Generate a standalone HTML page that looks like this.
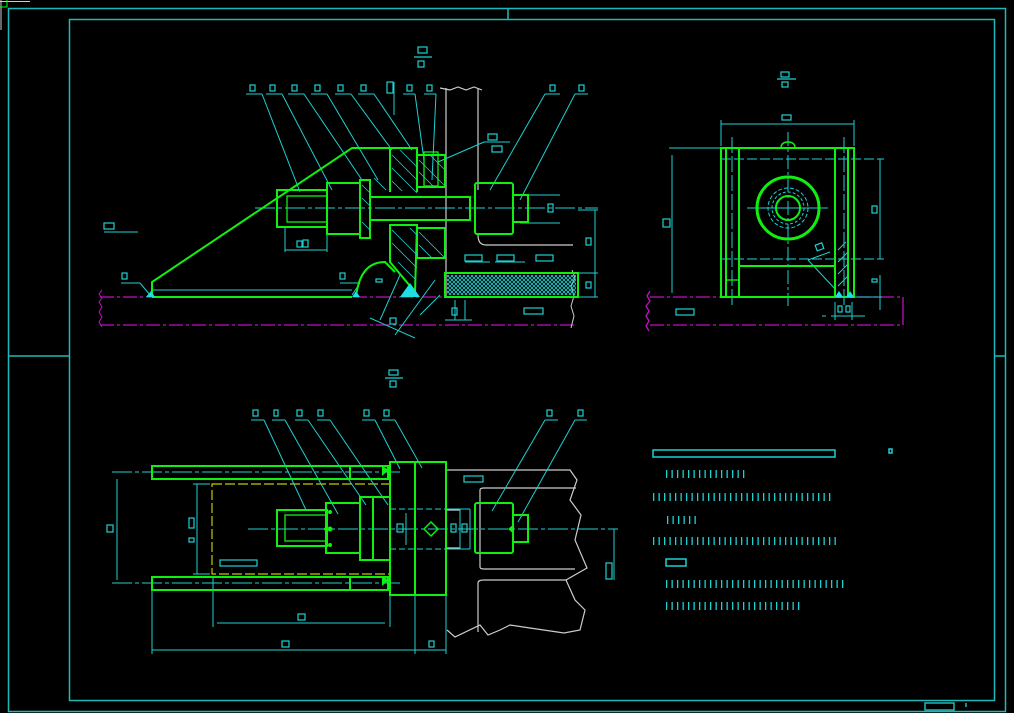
<!DOCTYPE html>
<html><head><meta charset="utf-8"><style>html,body{margin:0;padding:0;background:#000}svg{display:block}</style></head>
<body>
<svg width="1014" height="713" viewBox="0 0 1014 713" xmlns="http://www.w3.org/2000/svg" fill="none" stroke-linecap="butt">
<defs><pattern id="mesh" width="4" height="4" patternUnits="userSpaceOnUse"><path d="M0 0L4 4M4 0L0 4" stroke="#1fd0d0" stroke-width="0.8"/></pattern></defs>
<g stroke="#1fb8b8" stroke-width="1.5">
<rect x="8.5" y="8.5" width="997" height="703"/>
<rect x="69.5" y="19.5" width="925" height="681"/>
<line x1="508" y1="8" x2="508" y2="19"/><line x1="8" y1="356" x2="69" y2="356"/><line x1="994" y1="356" x2="1005" y2="356"/>
<rect x="925" y="703" width="29" height="7"/><line x1="966" y1="703" x2="966" y2="707"/>
</g>
<line x1="0" y1="1.5" x2="30" y2="1.5" stroke="#ccc"/><line x1="1" y1="0" x2="1" y2="30" stroke="#ccc"/>
<line x1="0" y1="7" x2="7" y2="7" stroke="#0f0"/><line x1="7" y1="0" x2="7" y2="7" stroke="#0f0"/>

<!-- FRONT VIEW -->
<g stroke="#c010c0" stroke-width="1.3" stroke-dasharray="14,3,3,3">
<line x1="100" y1="297" x2="576" y2="297"/><line x1="100" y1="325" x2="576" y2="325"/>
</g>
<path d="M102 290 l-3 4 3 4 -3 4 3 5 -3 5 3 5 -3 5 3 5" stroke="#c010c0"/>
<path d="M572 270 l3 8 -4 8 3 10 -3 10 3 10 -3 12" stroke="#ccc"/>
<g stroke="#ccc" stroke-width="1.2">
<line x1="446" y1="88" x2="446" y2="297"/><line x1="478" y1="88" x2="478" y2="190"/>
<path d="M440 88 l10 2 8 -3 8 3 8 -3 8 3"/>
<path d="M478 235 q0 10 8 10 h87"/>
</g>
<g stroke="#1fd0d0" stroke-width="1">
<line x1="255" y1="208" x2="598" y2="208" stroke-dasharray="20,3,4,3"/>
<line x1="152" y1="290" x2="352" y2="290"/>
<line x1="104" y1="232" x2="138" y2="232"/>
<line x1="595" y1="210" x2="595" y2="297"/><line x1="578" y1="273" x2="598" y2="273"/><line x1="578" y1="210" x2="598" y2="210"/><line x1="578" y1="297" x2="598" y2="297"/>
<line x1="285" y1="227" x2="285" y2="252"/><line x1="327" y1="227" x2="327" y2="252"/><line x1="285" y1="250" x2="327" y2="250"/>
<line x1="520" y1="195" x2="560" y2="195"/><line x1="520" y1="223" x2="560" y2="223"/>
<line x1="370" y1="318" x2="415" y2="338"/><line x1="400" y1="275" x2="380" y2="320"/><line x1="435" y1="280" x2="395" y2="335"/>
<line x1="440" y1="295" x2="420" y2="315"/>
<line x1="445" y1="320" x2="472" y2="320"/><line x1="455" y1="300" x2="455" y2="320"/><line x1="465" y1="300" x2="465" y2="320"/>
<line x1="465" y1="262" x2="490" y2="262"/><line x1="495" y1="262" x2="525" y2="262"/>
<line x1="340" y1="283" x2="360" y2="283"/><line x1="121" y1="283" x2="140" y2="283"/>
<line x1="140" y1="283" x2="150" y2="295"/><line x1="360" y1="283" x2="352" y2="295"/>
<line x1="484" y1="142" x2="510" y2="142"/><line x1="484" y1="142" x2="438" y2="162"/>
</g>
<g stroke="#1fd0d0" stroke-width="1">
<line x1="246" y1="94" x2="262" y2="94"/><line x1="262" y1="94" x2="300" y2="192"/>
<line x1="266" y1="94" x2="282" y2="94"/><line x1="282" y1="94" x2="332" y2="190"/>
<line x1="288" y1="94" x2="304" y2="94"/><line x1="304" y1="94" x2="362" y2="180"/>
<line x1="311" y1="94" x2="327" y2="94"/><line x1="327" y1="94" x2="378" y2="180"/>
<line x1="335" y1="94" x2="351" y2="94"/><line x1="351" y1="94" x2="392" y2="150"/>
<line x1="358" y1="94" x2="374" y2="94"/><line x1="374" y1="94" x2="412" y2="150"/>
<line x1="394" y1="82" x2="394" y2="115"/>
<line x1="403" y1="94" x2="415" y2="94"/><line x1="415" y1="94" x2="424" y2="160"/>
<line x1="424" y1="94" x2="436" y2="94"/><line x1="436" y1="94" x2="432" y2="180"/>
<line x1="545" y1="94" x2="560" y2="94"/><line x1="545" y1="94" x2="490" y2="190"/>
<line x1="575" y1="94" x2="588" y2="94"/><line x1="575" y1="94" x2="520" y2="200"/>
</g>
<g stroke="#10f010" stroke-width="2">
<path d="M152 297 V282 L352 148 H392"/>
<line x1="152" y1="297" x2="352" y2="297"/>
<rect x="277" y="190" width="50" height="37"/>
<rect x="287" y="196" width="40" height="26" stroke-width="1.3"/>
<rect x="327" y="183" width="33" height="51"/>
<rect x="360" y="180" width="10" height="58"/>
<rect x="370" y="197" width="100" height="23"/>
<rect x="475" y="183" width="38" height="51" rx="2"/>
<rect x="513" y="195" width="15" height="27"/>
<path d="M390 148 H417 V192 M390 148 V192 M390 225 V262 L415 292 L417 225 Z"/>
<rect x="417" y="155" width="28" height="32"/><rect x="417" y="228" width="28" height="30"/>
<rect x="424" y="152" width="14" height="34" stroke-width="1.3"/>
<rect x="445" y="273" width="133" height="24"/>
<path d="M356 297 Q360 262 385 262 L395 272"/>
</g>
<g stroke="#1fd0d0" stroke-width="0.8">
<path d="M392 155 l25 25 M392 168 l25 25 M392 181 l10 10 M400 150 l17 17 M392 230 l25 25 M392 243 l25 25 M398 262 l17 17 M410 228 l7 7 M419 160 l25 25 M419 172 l15 15 M430 155 l15 15 M419 232 l25 25 M419 245 l13 13 M362 185 l8 8 M362 198 l8 8 M362 222 l8 8 M374 178 l12 12"/>
</g>
<rect x="447" y="275" width="129" height="20" fill="url(#mesh)"/>
<path d="M400 297 L410 283 L420 297 Z" fill="#1fe0e0"/>
<path d="M146 297 l5 -6 4 6Z M352 297 l4 -6 4 6Z" fill="#1fe0e0"/>
<g stroke="#1fd0d0" stroke-width="1.2">
<rect x="418" y="47" width="9" height="6"/><line x1="414" y1="57" x2="432" y2="57"/><rect x="418" y="61" width="6" height="6"/>
<rect x="250" y="85" width="5" height="6"/><rect x="270" y="85" width="5" height="6"/><rect x="292" y="85" width="5" height="6"/><rect x="315" y="85" width="5" height="6"/><rect x="338" y="85" width="5" height="6"/><rect x="361" y="85" width="5" height="6"/><rect x="387" y="82" width="6" height="11"/><rect x="407" y="85" width="5" height="6"/><rect x="427" y="85" width="5" height="6"/><rect x="550" y="85" width="5" height="6"/><rect x="579" y="85" width="5" height="6"/>
<rect x="488" y="134" width="9" height="6"/><rect x="492" y="146" width="10" height="6"/>
<rect x="104" y="223" width="10" height="6"/><rect x="297" y="241" width="5" height="6"/><rect x="303" y="240" width="5" height="7"/>
<rect x="548" y="204" width="5" height="8"/><rect x="586" y="238" width="5" height="7"/><rect x="586" y="282" width="5" height="6"/>
<rect x="122" y="273" width="5" height="6"/><rect x="340" y="273" width="5" height="6"/><rect x="376" y="279" width="6" height="3"/>
<rect x="465" y="255" width="17" height="6"/><rect x="497" y="255" width="17" height="6"/><rect x="536" y="255" width="17" height="6"/>
<rect x="452" y="308" width="5" height="7"/><rect x="524" y="308" width="19" height="6"/><rect x="390" y="318" width="6" height="6"/>
</g>

<!-- SIDE VIEW -->
<g stroke="#c010c0" stroke-width="1.3">
<line x1="650" y1="297" x2="903" y2="297" stroke-dasharray="14,3,3,3"/><line x1="650" y1="325" x2="903" y2="325" stroke-dasharray="14,3,3,3"/>
<line x1="903" y1="297" x2="903" y2="325"/>
<path d="M650 291 l-3 5 3 5 -4 5 3 5 -3 5 3 5 -3 5 3 5"/>
</g>
<g stroke="#1fd0d0" stroke-width="1">
<line x1="788" y1="132" x2="788" y2="306" stroke-dasharray="14,3,3,3"/>
<line x1="747" y1="208" x2="828" y2="208"/>
<line x1="721" y1="159" x2="884" y2="159" stroke-dasharray="10,3"/><line x1="721" y1="259" x2="884" y2="259" stroke-dasharray="10,3"/>
<line x1="732" y1="137" x2="732" y2="306" stroke-dasharray="16,3"/><line x1="844" y1="137" x2="844" y2="306" stroke-dasharray="16,3"/>
<line x1="721" y1="124" x2="854" y2="124"/><line x1="721" y1="120" x2="721" y2="146"/><line x1="854" y1="120" x2="854" y2="146"/>
<line x1="669" y1="148" x2="721" y2="148"/><line x1="672" y1="155" x2="672" y2="293"/>
<line x1="880" y1="159" x2="880" y2="259"/><line x1="880" y1="275" x2="880" y2="310"/>
<line x1="808" y1="260" x2="836" y2="290"/><line x1="808" y1="260" x2="830" y2="252"/>
<line x1="831" y1="316" x2="860" y2="316"/><line x1="835" y1="302" x2="835" y2="320"/><line x1="852" y1="302" x2="852" y2="320"/><line x1="822" y1="316" x2="826" y2="316"/><line x1="859" y1="316" x2="865" y2="316"/>
<line x1="854" y1="297" x2="882" y2="297"/>
</g>
<g stroke="#10f010" stroke-width="2">
<rect x="721" y="148" width="133" height="149"/>
<line x1="726" y1="148" x2="726" y2="297"/><line x1="739" y1="148" x2="739" y2="297"/>
<line x1="835" y1="148" x2="835" y2="297"/><line x1="848" y1="148" x2="848" y2="297"/>
<line x1="739" y1="266" x2="835" y2="266"/>
<circle cx="788" cy="208" r="31" stroke-width="3"/><circle cx="788" cy="208" r="12" stroke-width="2"/>
<path d="M781 148 q0 -6 7 -6 q7 0 7 6" stroke-width="1.5"/>
<rect x="726" y="280" width="13" height="17" stroke-width="1.3"/>
</g>
<circle cx="788" cy="208" r="20" stroke="#1fd0d0" stroke-dasharray="4,2"/><circle cx="788" cy="208" r="16" stroke="#1fd0d0" stroke-dasharray="3,2"/>
<path d="M838 250 l8 -8 M838 262 l10 -10 M838 274 l10 -10 M838 286 l10 -10" stroke="#1fd0d0"/>
<path d="M835 297 l4 -6 4 6Z M846 297 l4 -6 4 6Z" fill="#1fe0e0"/>
<g stroke="#1fd0d0" stroke-width="1.2">
<rect x="781" y="72" width="8" height="5"/><line x1="777" y1="79" x2="796" y2="79"/><rect x="782" y="82" width="6" height="5"/>
<rect x="782" y="115" width="9" height="5"/><rect x="663" y="219" width="7" height="8"/><rect x="872" y="206" width="5" height="7"/><rect x="872" y="279" width="5" height="3"/>
<rect x="676" y="309" width="18" height="6"/><rect x="838" y="306" width="4" height="6"/><rect x="846" y="306" width="4" height="6"/>
<rect x="816" y="244" width="7" height="6" transform="rotate(-20 819 247)"/>
</g>

<!-- TOP VIEW (bottom left) -->
<g stroke="#ccc" stroke-width="1.2">
<path d="M446 470 H570 L577 480 L570 500 L581 515 L575 540 L587 568 L566 580 L575 600 L585 610 L580 630 L564 633 L530 628 L510 625 L500 630 L488 635 L480 625 L455 637 L447 630"/>
<path d="M480 520 V490 Q480 488 484 488 H576"/>
<path d="M480 520 V567 Q480 569 484 569 H575"/>
<path d="M478 583 Q478 580 484 580 H567"/>
<line x1="478" y1="583" x2="478" y2="632"/>
<path d="M446 510 H460 M446 548 H460"/>
</g>
<g stroke="#c8c800" stroke-width="1.2" stroke-dasharray="10,3">
<rect x="212" y="484" width="178" height="90"/>
</g>
<g stroke="#1fd0d0" stroke-width="1">
<line x1="112" y1="472" x2="400" y2="472" stroke-dasharray="20,3,4,3"/><line x1="112" y1="583" x2="400" y2="583" stroke-dasharray="20,3,4,3"/>
<line x1="248" y1="529" x2="618" y2="529" stroke-dasharray="20,3,4,3"/>
<line x1="117" y1="479" x2="117" y2="580"/>
<line x1="197" y1="484" x2="197" y2="574"/><line x1="193" y1="484" x2="210" y2="484"/><line x1="193" y1="574" x2="210" y2="574"/>
<line x1="152" y1="590" x2="152" y2="654"/><line x1="446" y1="595" x2="446" y2="654"/><line x1="415" y1="595" x2="415" y2="654"/>
<line x1="152" y1="650" x2="446" y2="650"/>
<line x1="213" y1="577" x2="213" y2="627"/><line x1="390" y1="560" x2="390" y2="627"/><line x1="217" y1="623" x2="385" y2="623"/>
<line x1="390" y1="509" x2="446" y2="509" stroke-dasharray="6,3"/><line x1="390" y1="549" x2="446" y2="549" stroke-dasharray="6,3"/>
<line x1="446" y1="509" x2="470" y2="509"/><line x1="446" y1="549" x2="470" y2="549"/><line x1="460" y1="509" x2="460" y2="549"/><line x1="470" y1="509" x2="470" y2="549"/>
<line x1="406" y1="513" x2="406" y2="545"/>
<line x1="614" y1="529" x2="614" y2="580"/>
<line x1="251" y1="420" x2="264" y2="420"/><line x1="264" y1="420" x2="306" y2="510"/>
<line x1="272" y1="420" x2="285" y2="420"/><line x1="285" y1="420" x2="338" y2="514"/>
<line x1="295" y1="420" x2="308" y2="420"/><line x1="308" y1="420" x2="366" y2="505"/>
<line x1="317" y1="420" x2="330" y2="420"/><line x1="330" y1="420" x2="388" y2="505"/>
<line x1="362" y1="420" x2="375" y2="420"/><line x1="375" y1="420" x2="400" y2="469"/>
<line x1="382" y1="420" x2="395" y2="420"/><line x1="395" y1="420" x2="422" y2="468"/>
<line x1="545" y1="420" x2="558" y2="420"/><line x1="545" y1="420" x2="492" y2="511"/>
<line x1="575" y1="420" x2="587" y2="420"/><line x1="575" y1="420" x2="518" y2="522"/>
</g>
<g stroke="#10f010" stroke-width="2">
<rect x="152" y="466" width="236" height="13"/><rect x="152" y="577" width="236" height="13"/>
<line x1="350" y1="466" x2="350" y2="479"/><line x1="350" y1="577" x2="350" y2="590"/>
<rect x="390" y="462" width="56" height="133"/><line x1="415" y1="462" x2="415" y2="595"/>
<rect x="277" y="510" width="50" height="36"/><rect x="285" y="515" width="42" height="26" stroke-width="1.3"/>
<rect x="326" y="503" width="34" height="50"/>
<rect x="360" y="497" width="30" height="63"/><line x1="373" y1="497" x2="373" y2="560"/>
<rect x="475" y="503" width="38" height="50" rx="2"/><rect x="513" y="515" width="15" height="27"/>
<path d="M431 522 l7 7 -7 7 -7 -7Z" stroke-width="1.5"/>
</g>
<path d="M382 466 l7 4 -7 6Z M382 576 l7 4 -7 6Z M323 529 l5 -4 v8Z M508 529 l6 -5 v10Z" fill="#10f010"/>
<circle cx="330" cy="529" r="2.5" fill="#10f010"/><circle cx="330" cy="512" r="2" fill="#10f010"/><circle cx="330" cy="545" r="2" fill="#10f010"/>
<g stroke="#1fd0d0" stroke-width="1.2">
<rect x="389" y="370" width="9" height="5"/><line x1="385" y1="378" x2="403" y2="378"/><rect x="390" y="381" width="6" height="6"/>
<rect x="253" y="410" width="5" height="6"/><rect x="274" y="410" width="4" height="6"/><rect x="297" y="410" width="5" height="6"/><rect x="318" y="410" width="5" height="6"/><rect x="364" y="410" width="5" height="6"/><rect x="384" y="410" width="5" height="6"/><rect x="547" y="410" width="5" height="6"/><rect x="578" y="410" width="5" height="6"/>
<rect x="107" y="525" width="6" height="7"/><rect x="189" y="518" width="5" height="10"/><rect x="189" y="538" width="5" height="4"/>
<rect x="220" y="560" width="37" height="6"/><rect x="298" y="614" width="7" height="6"/><rect x="282" y="641" width="7" height="6"/><rect x="429" y="641" width="5" height="6"/>
<rect x="397" y="524" width="6" height="8"/><rect x="451" y="524" width="5" height="8"/><rect x="462" y="524" width="5" height="8"/><rect x="464" y="476" width="19" height="6"/>
<rect x="606" y="563" width="6" height="16"/>
</g>

<!-- NOTES -->
<g stroke="#1fd0d0" stroke-width="1.5">
<rect x="653" y="450" width="182" height="7"/><rect x="889" y="449" width="3" height="4"/>
<rect x="666" y="559" width="20" height="7"/>
</g>
<g stroke="#1fd0d0" stroke-width="8" stroke-dasharray="1.3,4.2" stroke-linecap="butt">
<line x1="666" y1="474" x2="745" y2="474"/>
<line x1="653" y1="497" x2="832" y2="497"/>
<line x1="667" y1="520" x2="699" y2="520"/>
<line x1="653" y1="541" x2="836" y2="541"/>
<line x1="666" y1="584" x2="845" y2="584"/>
<line x1="666" y1="606" x2="801" y2="606"/>
</g>
</svg>
</body></html>
